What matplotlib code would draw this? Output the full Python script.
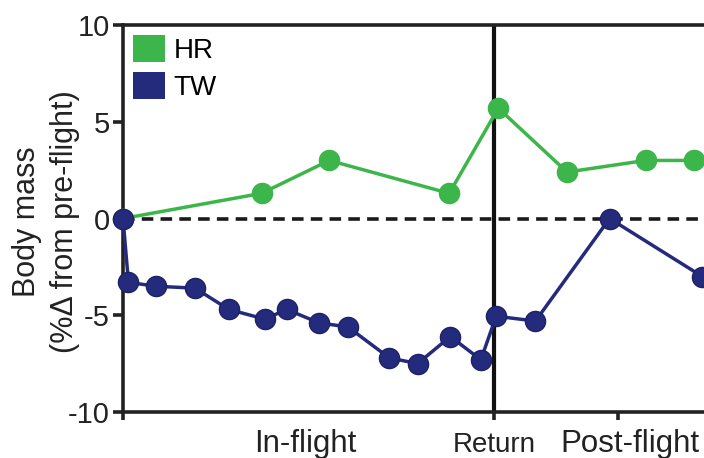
import matplotlib.pyplot as plt
from matplotlib.patches import Patch
from matplotlib.transforms import blended_transform_factory

plt.rcParams['font.family'] = ['Liberation Sans', 'DejaVu Sans']

# days since launch (return = 340)
hr_days = [0, 127, 189, 299, 344, 407, 479, 523]
hr_mass = [0.0, 1.3, 3.0, 1.3, 5.7, 2.4, 3.0, 3.0]

tw_days = [0, 5, 30, 66, 97, 130, 150, 180, 206, 244, 270, 300, 328, 342, 378, 446, 531]
tw_mass = [0.0, -3.3, -3.5, -3.6, -4.7, -5.2, -4.7, -5.4, -5.6, -7.2, -7.5, -6.1, -7.3, -5.05, -5.3, 0.0, -3.0]

return_day = 340
post_day = 454

# phase labels under the x axis: (position, text, size)
phase_labels = [(167, 'In-flight', 22.5), (return_day, 'Return', 20), (465, 'Post-flight', 22.5)]

green = '#3cb54a'
navy = '#252b7c'
ink = '#222222'

fig = plt.figure(figsize=(7.04, 4.58), dpi=100)
ax = fig.add_axes([123 / 704, 46 / 458, 611 / 704, 387 / 458])

ax.axhline(0, color='#1a1a1a', lw=2.6, ls=(0, (3.2, 2.0)), zorder=1)
ax.axvline(return_day, color='#111111', lw=3.0, zorder=1)

ax.plot(hr_days, hr_mass, color=green, lw=2.5, marker='o', ms=14.5, zorder=3, clip_on=False)
ax.plot(tw_days, tw_mass, color=navy, lw=2.5, marker='o', ms=14.5, zorder=4, clip_on=False,
        markeredgecolor='#1c2266', markeredgewidth=1.0)

ax.set_xlim(0, 560)
ax.set_ylim(-10, 10)
ax.set_yticks([-10, -5, 0, 5, 10])
ax.set_yticklabels(['-10', '-5', '0', '5', '10'], fontsize=21, color=ink)
ax.set_xticks([0, return_day, post_day])
ax.set_xticklabels(['', '', ''])

trans = blended_transform_factory(ax.transData, ax.transAxes)
for xpos, txt, size in phase_labels:
    ax.text(xpos, -0.103, txt, fontsize=size, color=ink, ha='center', va='baseline',
            transform=trans)

for side in ['left', 'bottom', 'top', 'right']:
    ax.spines[side].set_linewidth(2.6)
    ax.spines[side].set_color(ink)
ax.tick_params(axis='y', length=7.5, width=2.6, pad=2, colors=ink)
ax.tick_params(axis='x', length=6, width=2.6, colors=ink)

ax.set_ylabel('Body mass\n(%Δ from pre-flight)', fontsize=22, color=ink, linespacing=1.35)
ax.yaxis.set_label_coords(-0.0704, 0.491)

handles = [Patch(facecolor=green, edgecolor='none'), Patch(facecolor=navy, edgecolor='none')]
ax.legend(handles, ['HR', 'TW'], loc='upper left', bbox_to_anchor=(0, 1), frameon=False,
          fontsize=20, handlelength=1.15, handleheight=1.12, handletextpad=0.3,
          labelspacing=0.3, borderaxespad=0, borderpad=0.36)

fig.savefig('out.png', dpi=100)
